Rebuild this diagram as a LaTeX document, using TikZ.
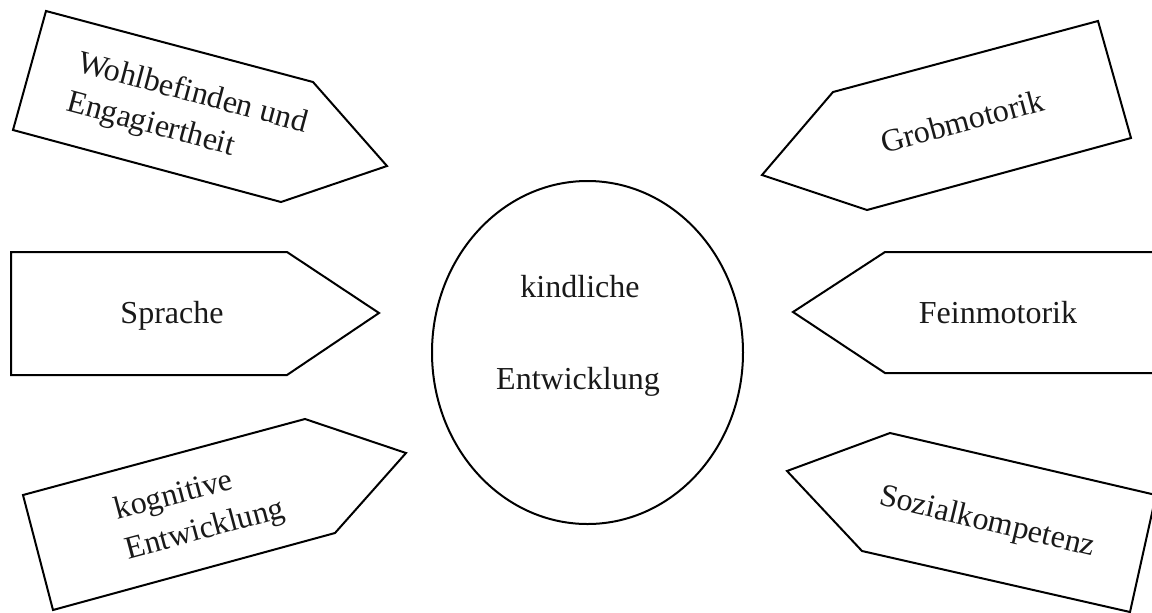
\documentclass[tikz,border=0pt]{standalone}
\usepackage{fontspec}
\setmainfont{Liberation Serif}
\usetikzlibrary{shapes.geometric}

\tikzset{
  signbox/.style={draw=black, line width=1pt, line join=miter, fill=white},
  lbl/.style={font=\fontsize{16}{20.5}\selectfont, inner sep=0pt, text=black!90},
  multi/.style={lbl, align=left}
}

\begin{document}
\begin{tikzpicture}[x=0.5pt, y=-0.5pt]
  \useasboundingbox (0,0) rectangle (1152,612);
  \clip (0,0) rectangle (1152,612);
  \fill[white] (0,0) rectangle (1152,612);

  % central ellipse
  \node[ellipse, draw=black, line width=1pt, minimum width=155.5pt,
        minimum height=171.5pt, inner sep=0pt] (core) at (587.5,352.5) {};
  \node[lbl, anchor=base] (coreA) at (580,297) {kindliche};
  \node[lbl, anchor=base] (coreB) at (578,389) {Entwicklung};

  % left side signs pointing towards the centre
  \draw[signbox] (46,11) -- (313,82) -- (387,166) -- (281,202) -- (13,130) -- cycle;
  \node[multi, rotate=-15] (wohl) at (187,114) {Wohlbefinden und\\Engagiertheit};

  \draw[signbox] (11,252) -- (287,252) -- (379,313) -- (287,375) -- (11,375) -- cycle;
  \node[lbl, anchor=base] (sprache) at (172,323) {Sprache};

  \draw[signbox] (23,495) -- (305,419) -- (406,453) -- (335,533) -- (53,610) -- cycle;
  \node[multi, rotate=15] (kog) at (200,511) {kognitive\\Entwicklung};

  % right side signs pointing towards the centre
  \draw[signbox] (1098,21) -- (1131,138) -- (867,210) -- (762,175) -- (833,92) -- cycle;
  \node[lbl, rotate=15] (grob) at (962,121) {Grobmotorik};

  \draw[signbox] (1165,252) -- (885,252) -- (793,312) -- (885,373) -- (1165,373);
  \node[lbl, anchor=base] (fein) at (998,323) {Feinmotorik};

  \draw[signbox] (1156,495) -- (890,433) -- (787,471) -- (862,551) -- (1130,612) -- (1156,495);
  \node[lbl, rotate=-13.5] (sozial) at (987,523) {Sozialkompetenz};
\end{tikzpicture}
\end{document}
